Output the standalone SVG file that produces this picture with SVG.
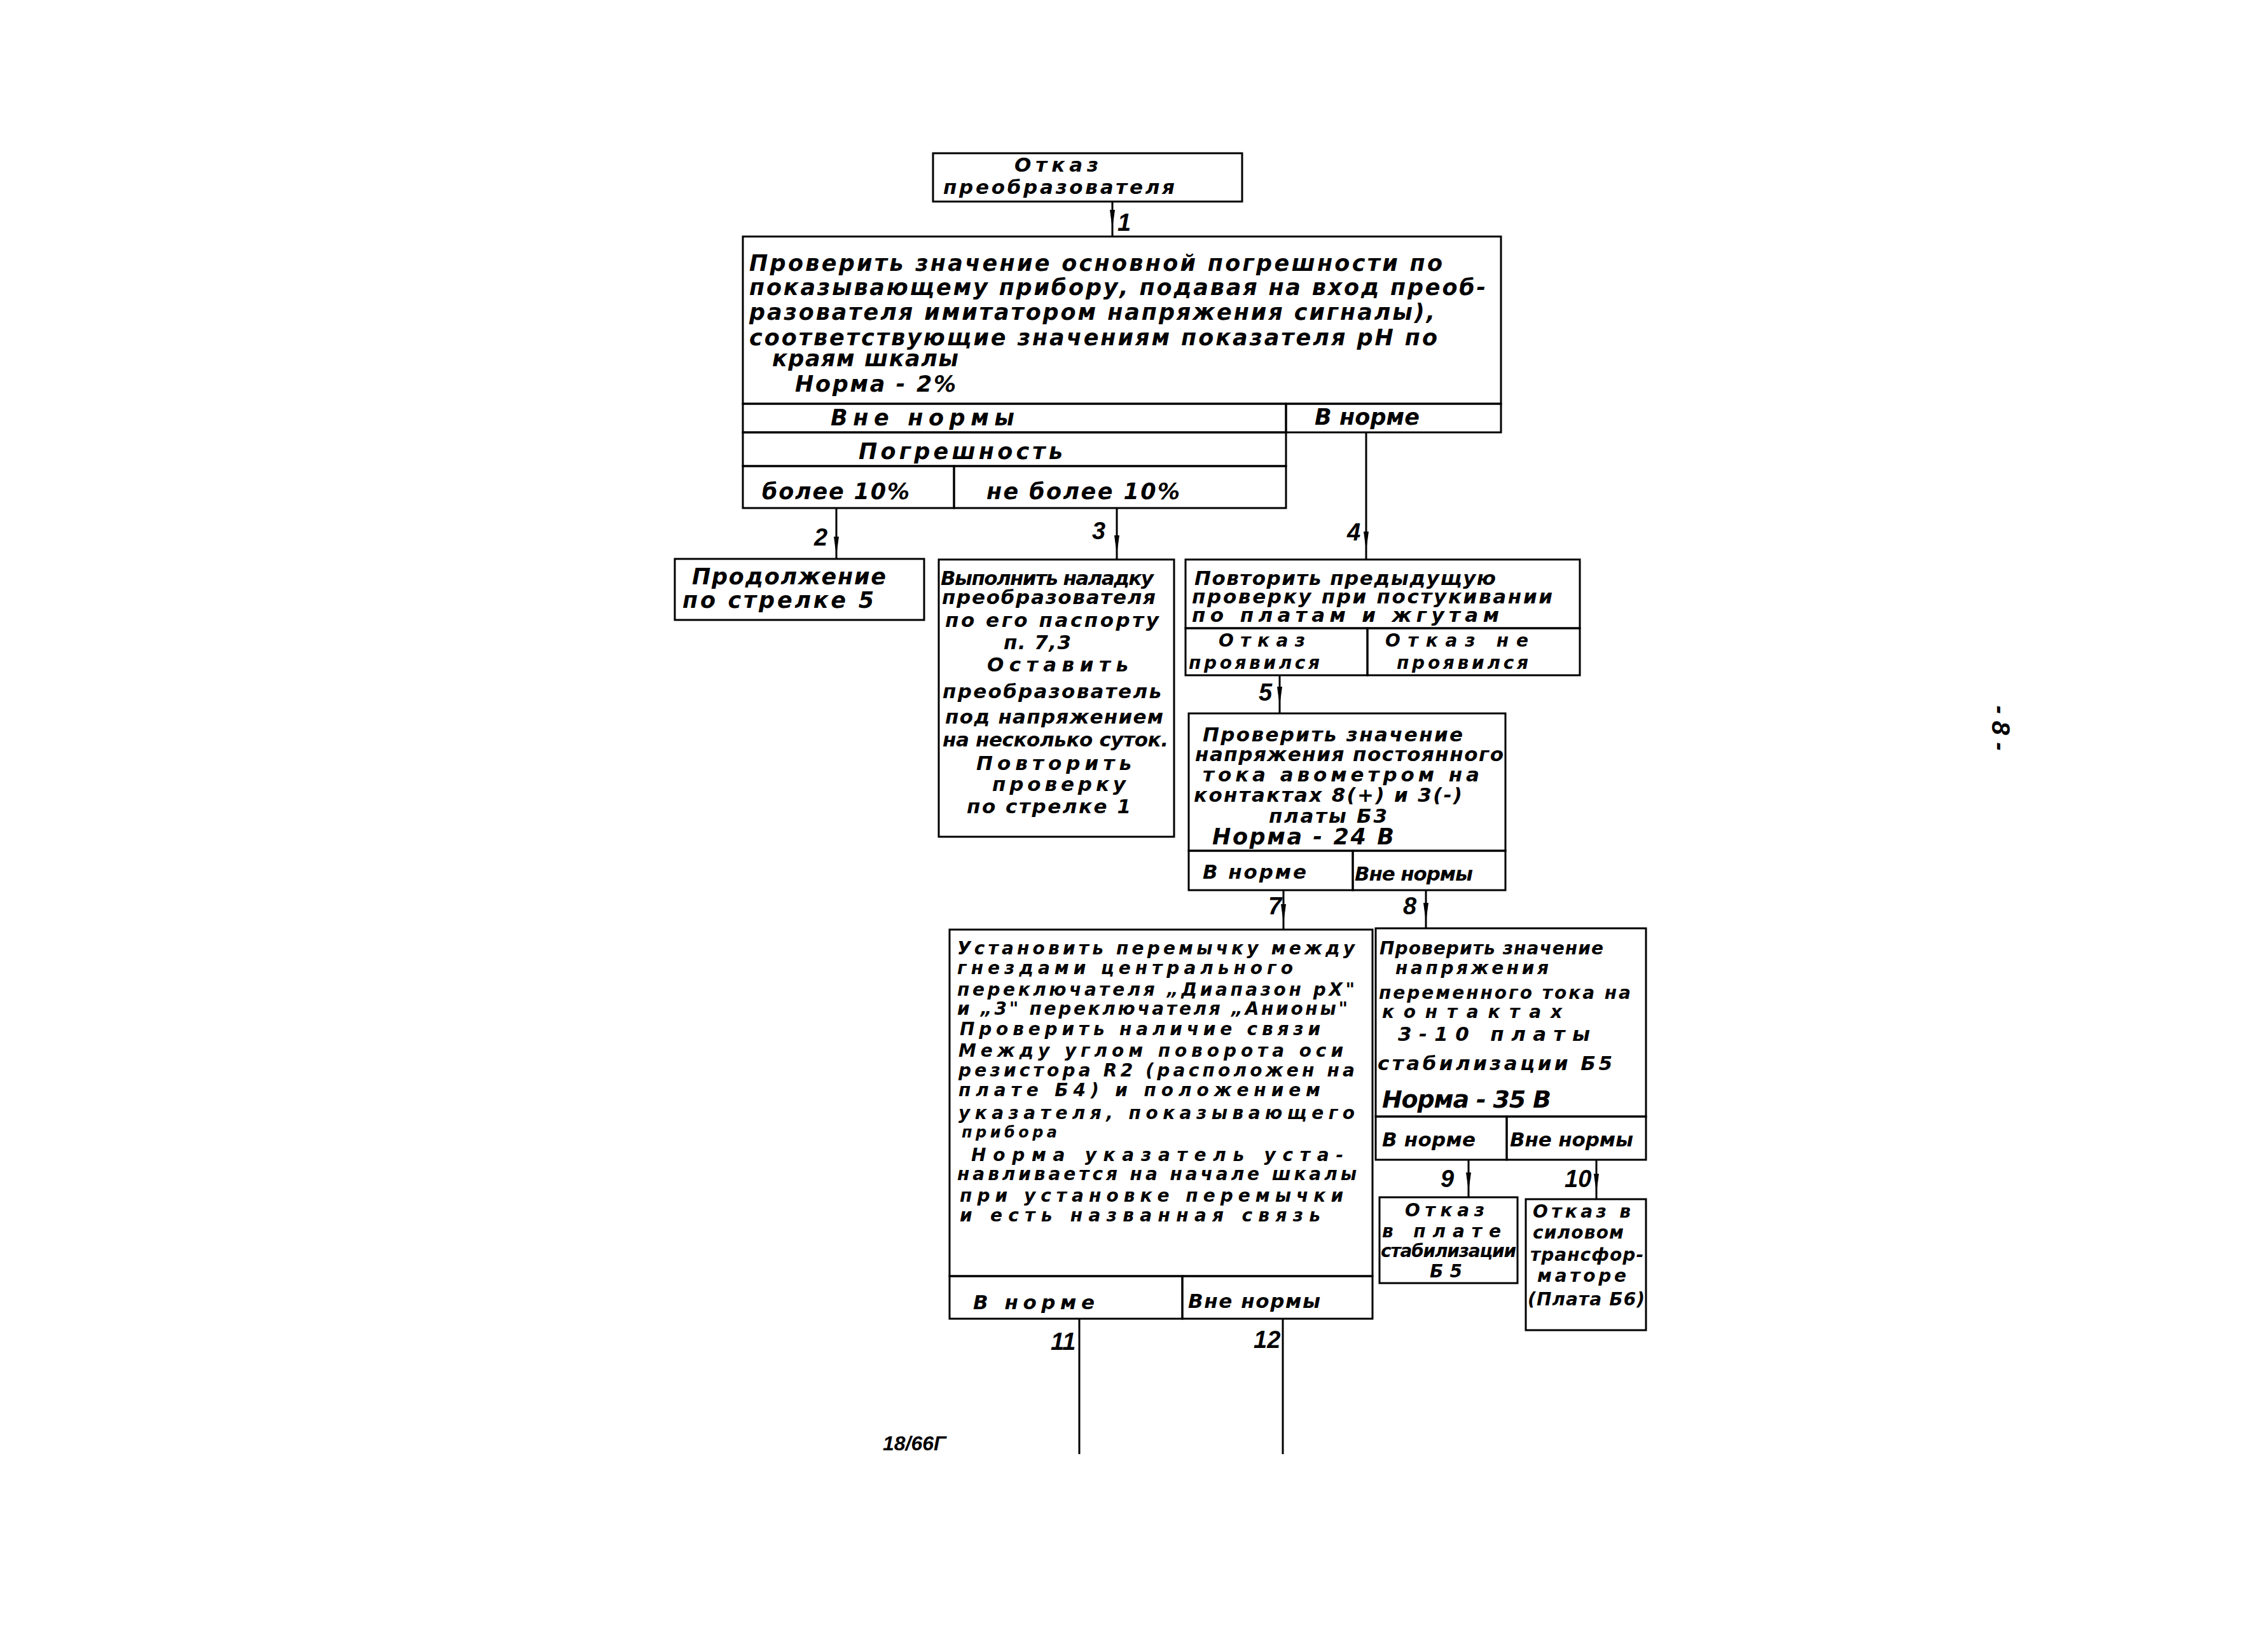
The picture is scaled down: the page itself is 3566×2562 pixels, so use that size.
<svg xmlns="http://www.w3.org/2000/svg" width="3566" height="2562" viewBox="0 0 3566 2562">
<style>
.t{font-family:"DejaVu Sans",sans-serif;font-style:italic;font-weight:bold;font-size:31px;fill:#000}
.s26{font-size:28px}
.s30{font-size:35px}
.s36{font-size:38px}
.n{font-family:"Liberation Sans",sans-serif;font-style:italic;font-weight:bold;font-size:38px;fill:#000}
.b{fill:none;stroke:#000;stroke-width:3}
.c{fill:none;stroke:#000;stroke-width:3}
</style>
<defs>
<marker id="ah" viewBox="0 0 30 8" refX="30" refY="4" markerWidth="30" markerHeight="8" markerUnits="userSpaceOnUse" orient="auto">
<path d="M0,0 L30,4 L0,8 z" fill="#000"/>
</marker>
</defs>
<rect width="3566" height="2562" fill="#fff"/>

<g id="connectors">
<path class="c" d="M1749,317 V360 V373" marker-mid="url(#ah)"/>
<path class="c" d="M1315,799 V874 V879" marker-mid="url(#ah)"/>
<path class="c" d="M1756,799 V872 V880" marker-mid="url(#ah)"/>
<path class="c" d="M2148,680 V866 V880" marker-mid="url(#ah)"/>
<path class="c" d="M2012,1062 V1110 V1122" marker-mid="url(#ah)"/>
<path class="c" d="M2018,1400 V1452 V1462" marker-mid="url(#ah)"/>
<path class="c" d="M2242,1400 V1450 V1460" marker-mid="url(#ah)"/>
<path class="c" d="M2309,1824 V1874 V1883" marker-mid="url(#ah)"/>
<path class="c" d="M2510,1824 V1876 V1886" marker-mid="url(#ah)"/>
<path class="c" d="M1697,2074 V2287"/>
<path class="c" d="M2017,2074 V2287"/>
<text class="n" x="1757" y="363">1</text>
<text class="n" x="1280" y="858">2</text>
<text class="n" x="1717" y="848">3</text>
<text class="n" x="2118" y="850">4</text>
<text class="n" x="1979" y="1102">5</text>
<text class="n" x="1994" y="1438">7</text>
<text class="n" x="2206" y="1438">8</text>
<text class="n" x="2265" y="1867">9</text>
<text class="n" x="2460" y="1867">10</text>
<text class="n" x="1652" y="2123">11</text>
<text class="n" x="1971" y="2120">12</text>
</g>

<g id="n0">
<rect class="b" x="1467" y="241" width="486" height="76"/>
<text class="t" x="1595" y="270" textLength="132">Отказ</text>
<text class="t" x="1483" y="305" textLength="364">преобразователя</text>
</g>

<g id="n1">
<rect class="b" x="1168" y="372" width="1192" height="263"/>
<rect class="b" x="1168" y="635" width="854" height="45"/>
<rect class="b" x="2022" y="635" width="338" height="45"/>
<rect class="b" x="1168" y="680" width="854" height="53"/>
<rect class="b" x="1168" y="733" width="332" height="66"/>
<rect class="b" x="1500" y="733" width="522" height="66"/>
<g class="t s30">
<text x="1178" y="426" textLength="1090">Проверить значение основной погрешности по</text>
<text x="1178" y="464" textLength="1158">показывающему прибору, подавая на вход преоб-</text>
<text x="1178" y="503" textLength="1078">разователя имитатором напряжения сигналы),</text>
<text x="1178" y="543" textLength="1082">соответствующие значениям показателя pH по</text>
<text x="1214" y="576" textLength="293">краям шкалы</text>
<text x="1250" y="616" textLength="253">Норма - 2%</text>
<text x="1306" y="669" textLength="289">Вне нормы</text>
<text x="2067" y="668" textLength="165">В норме</text>
<text x="1350" y="722" textLength="321">Погрешность</text>
<text x="1198" y="785" textLength="232">более 10%</text>
<text x="1551" y="785" textLength="304">не более 10%</text>
</g>
</g>

<g id="n2">
<rect class="b" x="1061" y="879" width="392" height="96"/>
<g class="t s30">
<text x="1088" y="919" textLength="305">Продолжение</text>
<text x="1073" y="956" textLength="301">по стрелке 5</text>
</g>
</g>

<g id="n3">
<rect class="b" x="1476" y="880" width="370" height="436"/>
<g class="t">
<text x="1479" y="920" textLength="335">Выполнить наладку</text>
<text x="1481" y="950" textLength="336">преобразователя</text>
<text x="1486" y="986" textLength="336">по его паспорту</text>
<text x="1578" y="1021" textLength="106">п. 7,3</text>
<text x="1552" y="1056" textLength="222">Оставить</text>
<text x="1482" y="1098" textLength="344">преобразователь</text>
<text x="1486" y="1138" textLength="343">под напряжением</text>
<text x="1482" y="1174" textLength="355">на несколько суток.</text>
<text x="1535" y="1211" textLength="244">Повторить</text>
<text x="1560" y="1244" textLength="210">проверку</text>
<text x="1520" y="1279" textLength="258">по стрелке 1</text>
</g>
</g>

<g id="n4">
<rect class="b" x="1864" y="880" width="620" height="108"/>
<rect class="b" x="1864" y="988" width="286" height="74"/>
<rect class="b" x="2150" y="988" width="334" height="74"/>
<g class="t">
<text x="1878" y="920" textLength="474">Повторить предыдущую</text>
<text x="1874" y="949" textLength="567">проверку при постукивании</text>
<text x="1874" y="978" textLength="483">по платам и жгутам</text>
</g>
<g class="t s26">
<text x="1916" y="1017" textLength="136">Отказ</text>
<text x="1869" y="1052" textLength="206">проявился</text>
<text x="2178" y="1017" textLength="225">Отказ не</text>
<text x="2196" y="1052" textLength="207">проявился</text>
</g>
</g>

<g id="n5">
<rect class="b" x="1869" y="1122" width="498" height="216"/>
<rect class="b" x="1869" y="1338" width="258" height="62"/>
<rect class="b" x="2127" y="1338" width="240" height="62"/>
<g class="t">
<text x="1891" y="1166" textLength="409">Проверить значение</text>
<text x="1879" y="1197" textLength="485">напряжения постоянного</text>
<text x="1891" y="1229" textLength="435">тока авометром на</text>
<text x="1877" y="1261" textLength="422">контактах 8(+) и 3(-)</text>
<text x="1995" y="1294" textLength="186">платы Б3</text>
<text class="s30" x="1906" y="1328" textLength="286">Норма - 24 В</text>
<text x="1891" y="1382" textLength="163">В норме</text>
<text x="2130" y="1385" textLength="186">Вне нормы</text>
</g>
</g>

<g id="n7">
<rect class="b" x="1493" y="1462" width="665" height="545"/>
<rect class="b" x="1493" y="2007" width="366" height="67"/>
<rect class="b" x="1859" y="2007" width="299" height="67"/>
<g class="t s26">
<text x="1505" y="1501" textLength="625">Установить перемычку между</text>
<text x="1505" y="1532" textLength="528">гнездами центрального</text>
<text x="1505" y="1566" textLength="625">переключателя „Диапазон pX"</text>
<text x="1505" y="1596" textLength="614">и „3" переключателя „Анионы"</text>
<text x="1509" y="1628" textLength="567">Проверить наличие связи</text>
<text x="1507" y="1662" textLength="605">Между углом поворота оси</text>
<text x="1507" y="1693" textLength="623">резистора R2 (расположен на</text>
<text x="1507" y="1724" textLength="569">плате Б4) и положением</text>
<text x="1507" y="1760" textLength="623">указателя, показывающего</text>
<text x="1512" y="1789" textLength="150" style="font-size:24px">прибора</text>
<text x="1527" y="1826" textLength="585">Норма указатель уста-</text>
<text x="1505" y="1856" textLength="628">навливается на начале шкалы</text>
<text x="1509" y="1890" textLength="603">при установке перемычки</text>
<text x="1509" y="1921" textLength="567">и есть названная связь</text>
<text class="t" x="1530" y="2059" textLength="191">В норме</text>
<text class="t" x="1868" y="2057" textLength="208">Вне нормы</text>
</g>
</g>

<g id="n8">
<rect class="b" x="2163" y="1460" width="425" height="296"/>
<rect class="b" x="2163" y="1756" width="206" height="68"/>
<rect class="b" x="2369" y="1756" width="219" height="68"/>
<g class="t s26">
<text x="2169" y="1501" textLength="352">Проверить значение</text>
<text x="2194" y="1532" textLength="241">напряжения</text>
<text x="2168" y="1571" textLength="396">переменного тока на</text>
<text x="2173" y="1601" textLength="283">контактах</text>
<text class="t" x="2198" y="1637" textLength="302">3-10 платы</text>
<text class="t" x="2166" y="1683" textLength="369">стабилизации Б5</text>
<text class="t s36" x="2173" y="1742" textLength="266">Норма - 35 В</text>
<text class="t" x="2173" y="1803" textLength="147">В норме</text>
<text class="t" x="2374" y="1803" textLength="194">Вне нормы</text>
</g>
</g>

<g id="n9">
<rect class="b" x="2169" y="1883" width="217" height="135"/>
<g class="t s26">
<text x="2209" y="1913" textLength="125">Отказ</text>
<text x="2173" y="1946" textLength="187">в плате</text>
<text x="2171" y="1977" textLength="213">стабилизации</text>
<text x="2248" y="2009" textLength="51">Б5</text>
</g>
</g>

<g id="n10">
<rect class="b" x="2399" y="1886" width="189" height="206"/>
<g class="t s26">
<text x="2410" y="1915" textLength="154">Отказ в</text>
<text x="2410" y="1948" textLength="143">силовом</text>
<text x="2406" y="1983" textLength="178">трансфор-</text>
<text x="2417" y="2016" textLength="140">маторе</text>
<text x="2402" y="2053" textLength="184">(Плата Б6)</text>
</g>
</g>

<text class="n" x="1388" y="2281" style="font-size:32px">18/66Г</text>
<text class="n" x="3146" y="1145" text-anchor="middle" transform="rotate(90 3146 1145)" style="font-size:40px" dy="14">- 8 -</text>
</svg>
